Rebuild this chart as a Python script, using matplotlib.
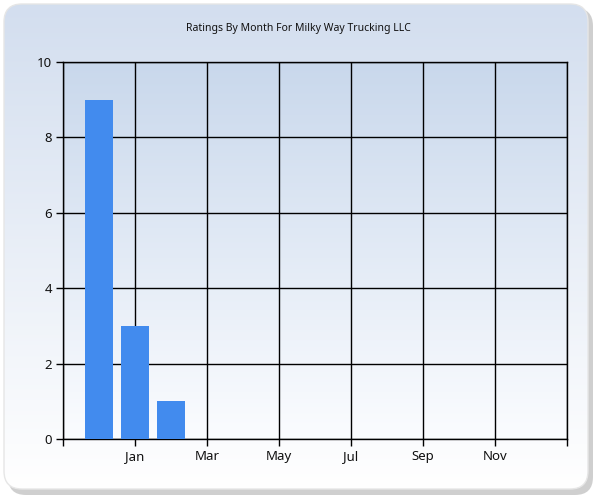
import numpy as np
import matplotlib
matplotlib.use("Agg")
import matplotlib.pyplot as plt
from matplotlib.patches import FancyBboxPatch

# data
month_pos = [0, 1, 2]          # Dec, Jan, Feb
ratings = [9, 3, 1]
tick_pos = [1, 3, 5, 7, 9, 11]
tick_labels = ["Jan", "Mar", "May", "Jul", "Sep", "Nov"]
title = "Ratings By Month For Milky Way Trucking LLC"

BAR = "#428BEE"
INK = "#111111"

plt.rcParams["font.family"] = ["Noto Sans", "DejaVu Sans"]

fig = plt.figure(figsize=(6, 5), dpi=100)
fig.patch.set_facecolor("white")

# background panel with shadow + vertical gradient
bg = fig.add_axes([0, 0, 1, 1])
bg.set_xlim(0, 600); bg.set_ylim(500, 0); bg.axis("off")
shadow = FancyBboxPatch((8, 8), 585, 487, boxstyle="round,pad=0,rounding_size=18",
                        facecolor="#c4c4c4", edgecolor="none", alpha=0.8, zorder=-2)
bg.add_patch(shadow)
panel = FancyBboxPatch((4, 4), 584, 485, boxstyle="round,pad=0,rounding_size=18",
                       facecolor="none", edgecolor="#e6e6e6", linewidth=1, zorder=2)
bg.add_patch(panel)
grad = np.linspace(0, 1, 256).reshape(-1, 1)
top, bot = np.array([0.827, 0.871, 0.937]), np.array([1.0, 1.0, 1.0])
img = top + (bot - top) * grad[..., None]
im = bg.imshow(img, extent=[4, 588, 489, 4], aspect="auto", zorder=0)
im.set_clip_path(panel)

# plot area
ax = fig.add_axes([63 / 600, 61 / 500, 504 / 600, 377 / 500])
ptop, pbot = np.array([0.788, 0.847, 0.925]), np.array([0.985, 0.99, 1.0])
pa = ptop + (pbot - ptop) * grad[..., None]
ax.imshow(pa, extent=[-1, 13, 0, 10], aspect="auto", zorder=0, origin="upper")
ax.set_xlim(-1, 13); ax.set_ylim(0, 10)

ax.bar(month_pos, ratings, width=0.78, color=BAR, zorder=3)

ax.set_xticks([-1] + tick_pos + [13])
ax.set_xticklabels([""] + tick_labels + [""])
ax.set_yticks([0, 2, 4, 6, 8, 10])
ax.grid(True, color="black", linewidth=1, zorder=1)
ax.set_axisbelow(True)
for s in ax.spines.values():
    s.set_color("black"); s.set_linewidth(1)
ax.tick_params(axis="both", direction="out", length=5, width=1, color="black",
               labelsize=9.5, labelcolor=INK, pad=3)

fig.text(0.497, 0.942, title, ha="center", va="center", fontsize=7.5, color=INK)

fig.savefig("out.png", dpi=100, facecolor="white")
